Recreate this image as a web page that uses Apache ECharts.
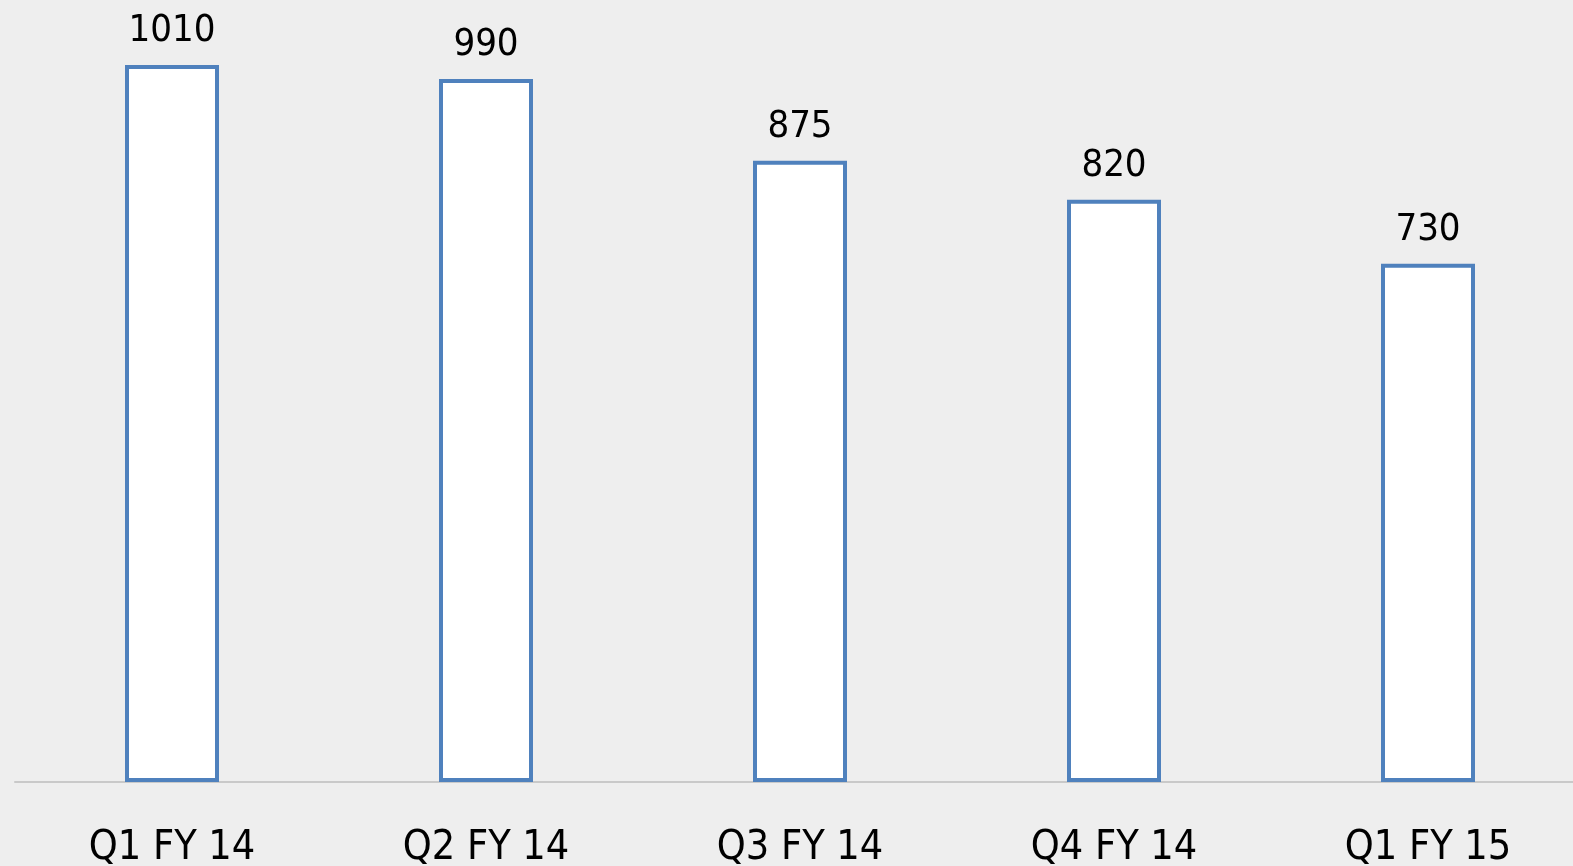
<!DOCTYPE html>
<html>
<head>
<meta charset="utf-8">
<script src="https://cdn.jsdelivr.net/npm/echarts@6/dist/echarts.min.js"></script>
<style>
html,body{margin:0;padding:0;background:#eeeeee;overflow:hidden;}
#main{width:1590px;height:866px;}
</style>
</head>
<body>
<div id="main"></div>
<script>
var categories = ['Q1 FY 14', 'Q2 FY 14', 'Q3 FY 14', 'Q4 FY 14', 'Q1 FY 15'];
var values = [1010, 990, 875, 820, 730];

var chart = echarts.init(document.getElementById('main'));
chart.setOption({
  backgroundColor: '#eeeeee',
  animation: false,
  grid: { left: 15, width: 1570, top: 1, bottom: 84, outerBoundsMode: 'none', containLabel: false },
  xAxis: {
    type: 'category',
    data: categories,
    axisLine: { show: true, lineStyle: { color: '#c9c9c9', width: 2 } },
    axisTick: { show: false },
    axisLabel: {
      margin: 46,
      color: '#000000',
      fontSize: 41,
      fontFamily: '"DejaVu Sans Condensed", "DejaVu Sans", sans-serif'
    }
  },
  yAxis: {
    type: 'value',
    min: 0,
    max: 1100,
    show: false,
    splitLine: { show: false }
  },
  series: [{
    type: 'bar',
    data: values,
    barWidth: 94,
    itemStyle: { color: '#ffffff', borderColor: '#4f81bd', borderWidth: 4 },
    label: {
      show: true,
      position: 'top',
      distance: 15,
      color: '#000000',
      fontSize: 38,
      fontFamily: '"DejaVu Sans Condensed", "DejaVu Sans", sans-serif'
    }
  }]
});
</script>
</body>
</html>
